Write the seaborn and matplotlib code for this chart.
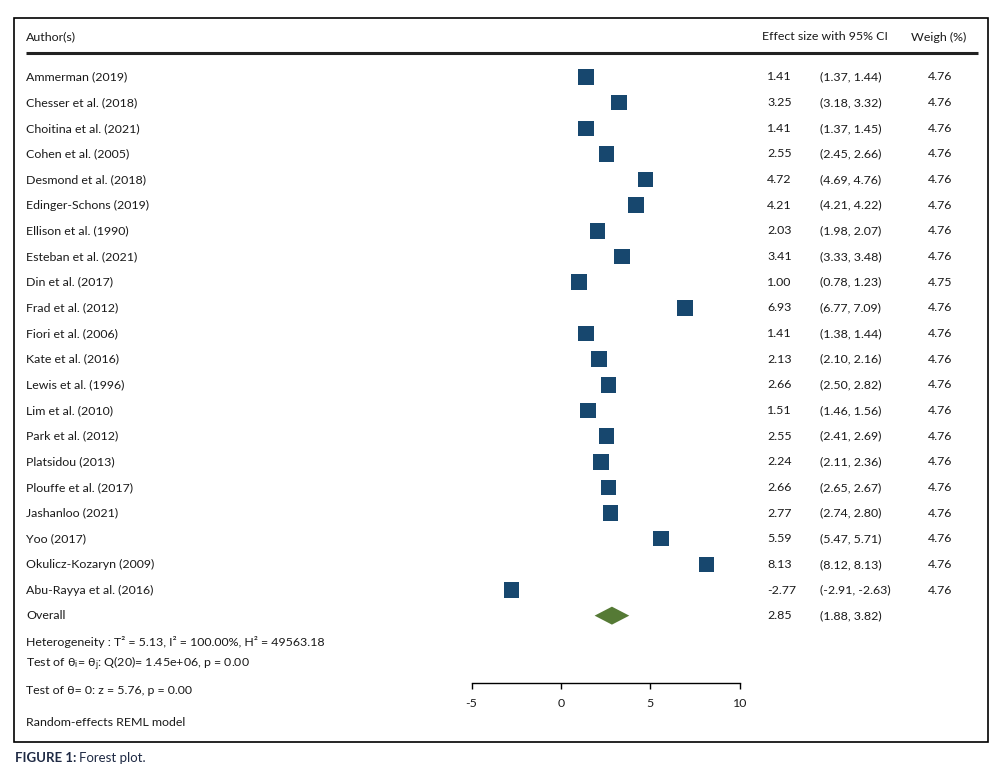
import numpy as np
import pandas as pd
import matplotlib.pyplot as plt
import matplotlib.transforms as mtransforms
from matplotlib.patches import Rectangle
import seaborn as sns

# ---------------------------------------------------------------
# data
# ---------------------------------------------------------------
authors = ["Ammerman (2019)", "Chesser et al. (2018)", "Choitina et al. (2021)",
           "Cohen et al. (2005)", "Desmond et al. (2018)", "Edinger-Schons (2019)",
           "Ellison et al. (1990)", "Esteban et al. (2021)", "Din et al. (2017)",
           "Frad et al. (2012)", "Fiori et al. (2006)", "Kate et al. (2016)",
           "Lewis et al. (1996)", "Lim et al. (2010)", "Park et al. (2012)",
           "Platsidou (2013)", "Plouffe et al. (2017)", "Jashanloo (2021)",
           "Yoo (2017)", "Okulicz-Kozaryn (2009)", "Abu-Rayya et al. (2016)"]
effect = [1.41, 3.25, 1.41, 2.55, 4.72, 4.21, 2.03, 3.41, 1.00, 6.93, 1.41,
          2.13, 2.66, 1.51, 2.55, 2.24, 2.66, 2.77, 5.59, 8.13, -2.77]
ci_low = [1.37, 3.18, 1.37, 2.45, 4.69, 4.21, 1.98, 3.33, 0.78, 6.77, 1.38,
          2.10, 2.50, 1.46, 2.41, 2.11, 2.65, 2.74, 5.47, 8.12, -2.91]
ci_high = [1.44, 3.32, 1.45, 2.66, 4.76, 4.22, 2.07, 3.48, 1.23, 7.09, 1.44,
           2.16, 2.82, 1.56, 2.69, 2.36, 2.67, 2.80, 5.71, 8.13, -2.63]
weight = [4.76, 4.76, 4.76, 4.76, 4.76, 4.76, 4.76, 4.76, 4.75, 4.76, 4.76,
          4.76, 4.76, 4.76, 4.76, 4.76, 4.76, 4.76, 4.76, 4.76, 4.76]
overall_est = 2.85
overall_low = 1.88
overall_high = 3.82
x_ticks = [-5, 0, 5, 10]

df = pd.DataFrame({"author": authors, "effect": effect, "low": ci_low,
                   "high": ci_high, "weight": weight})
df["row"] = np.arange(len(df))

# ---------------------------------------------------------------
# style
# ---------------------------------------------------------------
sns.set_theme(style="white")
plt.rcParams["font.family"] = ["Lato", "DejaVu Sans"]
plt.rcParams["mathtext.fontset"] = "custom"
plt.rcParams["mathtext.rm"] = "Lato"
plt.rcParams["mathtext.it"] = "Lato:italic"
TXT = "#1a1a1a"
FS = 8.9
SQ_COLOR = "#17476e"
DIA_COLOR = "#557a35"

W, H = 998, 779
fig = plt.figure(figsize=(W / 100, H / 100), dpi=100)
ax = fig.add_axes([0, 0, 1, 1])

# pixel <-> data mapping (axes covers whole figure)
x0_px, unit_px = 561.0, 17.87      # px of value 0, px per unit
row0_px, row_px = 77.0, 25.65      # px of first row, px per row
ax.set_xlim(-x0_px / unit_px, (W - x0_px) / unit_px)
ax.set_ylim((H - row0_px) / row_px, -row0_px / row_px)


def rowy(py):
    return (py - row0_px) / row_px


def fx(px):
    return px / W


blend = mtransforms.blended_transform_factory(fig.transFigure, ax.transData)

# CI lines and squares
ax.hlines(df["row"], df["low"], df["high"], color=SQ_COLOR, lw=1, zorder=2)
sns.scatterplot(data=df, x="effect", y="row", marker="s", s=125,
                color=SQ_COLOR, edgecolor="none", ax=ax, zorder=3, legend=False)

# overall diamond
ov_row = len(df)
ax.fill([overall_low, overall_est, overall_high, overall_est],
        [ov_row, ov_row - 0.35, ov_row, ov_row + 0.35],
        color=DIA_COLOR, lw=0, zorder=3)

# bottom axis
for s in ["top", "left", "right"]:
    ax.spines[s].set_visible(False)
ax.spines["bottom"].set_position(("data", rowy(683)))
ax.spines["bottom"].set_bounds(x_ticks[0], x_ticks[-1])
ax.spines["bottom"].set_color("black")
ax.spines["bottom"].set_linewidth(1)
ax.set_xticks(x_ticks)
ax.set_xticklabels([str(t) for t in x_ticks])
ax.tick_params(axis="x", bottom=True, direction="out", length=4, width=1,
               pad=6.5, labelsize=FS, colors="black", labelcolor=TXT)
ax.set_yticks([])
ax.set_xlabel("")
ax.set_ylabel("")

# header
ax.text(fx(26), rowy(37), "Author(s)", transform=blend, fontsize=FS,
        color=TXT, va="center")
ax.text(fx(762), rowy(37), "Effect size with 95% CI", transform=blend,
        fontsize=FS, color=TXT, va="center")
ax.text(fx(911), rowy(37), "Weigh (%)", transform=blend, fontsize=FS,
        color=TXT, va="center")
ax.plot([fx(26), fx(978)], [rowy(53), rowy(53)], transform=blend,
        color="#222222", lw=2.2, solid_capstyle="butt")

# table rows
for _, r in df.iterrows():
    y = r["row"]
    ax.text(fx(26), y, r["author"], transform=blend, fontsize=FS,
            color=TXT, va="center")
    ax.text(fx(767), y, f"{r['effect']:.2f}", transform=blend, fontsize=FS,
            color=TXT, va="center")
    ax.text(fx(820), y, f"({r['low']:.2f}, {r['high']:.2f})", transform=blend,
            fontsize=FS, color=TXT, va="center")
    ax.text(fx(928), y, f"{r['weight']:.2f}", transform=blend, fontsize=FS,
            color=TXT, va="center")

ax.text(fx(26), ov_row, "Overall", transform=blend, fontsize=FS,
        color=TXT, va="center")
ax.text(fx(767), ov_row, f"{overall_est:.2f}", transform=blend, fontsize=FS,
        color=TXT, va="center")
ax.text(fx(820), ov_row, f"({overall_low:.2f}, {overall_high:.2f})",
        transform=blend, fontsize=FS, color=TXT, va="center")

# footer statistics
ax.text(fx(26), rowy(642),
        "Heterogeneity : T\u00b2 = 5.13, I\u00b2 = 100.00%, H\u00b2 = 49563.18",
        transform=blend, fontsize=FS, color=TXT, va="center")
ax.text(fx(26), rowy(664),
        r"Test of θ$_\mathrm{i}$= θ$_\mathrm{j}$: Q(20)= 1.45e+06, p = 0.00",
        transform=blend, fontsize=FS, color=TXT, va="center")
ax.text(fx(26), rowy(690), "Test of θ= 0: z = 5.76, p = 0.00",
        transform=blend, fontsize=FS, color=TXT, va="center")
ax.text(fx(26), rowy(722), "Random-effects REML model",
        transform=blend, fontsize=FS, color=TXT, va="center")

# outer frame
fig.patches.append(Rectangle((fx(14), 1 - 742 / H), fx(988) - fx(14),
                             (742 - 18) / H, transform=fig.transFigure,
                             fill=False, edgecolor="black", lw=1.2))

# caption
cap = fig.text(fx(15), 1 - 758 / H, "FIGURE 1:", fontsize=FS + 0.6,
               fontweight="bold", color="#1f2a44", va="center")
fig.canvas.draw()
bb = cap.get_window_extent()
fig.text((bb.x1 + 3) / W, 1 - 758 / H, "Forest plot.", fontsize=FS + 0.6,
         color="#1f2a44", va="center")

fig.savefig("out.png", dpi=100)
